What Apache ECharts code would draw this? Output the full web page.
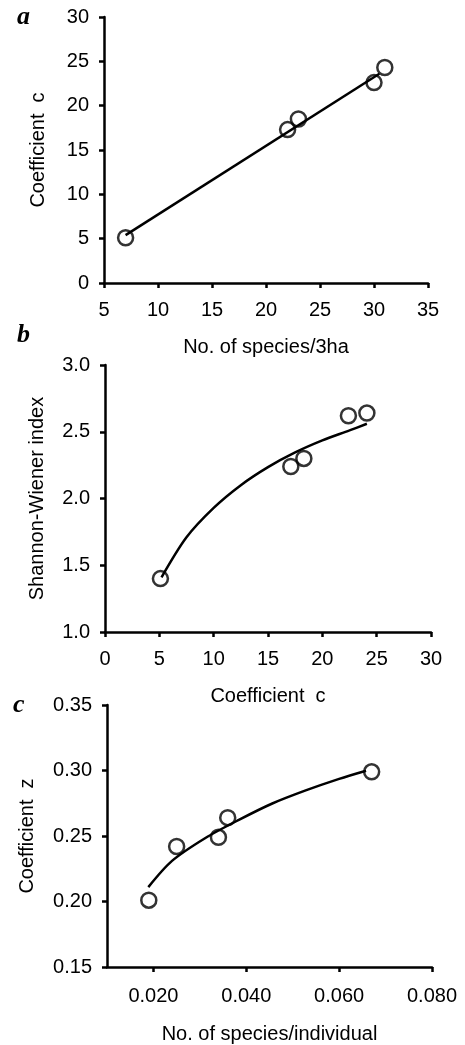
<!DOCTYPE html>
<html>
<head>
<meta charset="utf-8">
<script src="https://cdn.jsdelivr.net/npm/echarts@6/dist/echarts.min.js"></script>
<style>
  html, body { margin: 0; padding: 0; background: #fff; }
  #main { width: 465px; height: 1045px; }
</style>
</head>
<body>
<div id="main"></div>
<script>
// panel a : species richness vs coefficient c
var aX = [7, 22, 23, 30, 31];
var aY = [5.1, 17.3, 18.5, 22.6, 24.3];
var aFitX = [7, 30.5];
var aFitY = [5.4, 23.6];

// panel b : coefficient c vs Shannon-Wiener
var bX = [5.1, 17.1, 18.3, 22.4, 24.1];
var bY = [1.40, 2.24, 2.30, 2.62, 2.64];
var bFitX = [5.2, 7.5, 10, 12.5, 15, 17.5, 20, 22.5, 24.1];
var bFitY = [1.41, 1.71, 1.93, 2.10, 2.235, 2.345, 2.435, 2.51, 2.56];

// panel c : species/individual vs coefficient z
var cX = [0.019, 0.025, 0.034, 0.036, 0.067];
var cY = [0.201, 0.242, 0.249, 0.264, 0.299];
var cFitX = [0.0189, 0.024, 0.0312, 0.0384, 0.0456, 0.0528, 0.060, 0.0658];
var cFitY = [0.211, 0.231, 0.2485, 0.2623, 0.2748, 0.2848, 0.2936, 0.2998];
var cTicks = [0.02, 0.04, 0.06, 0.08];

var font = 'Liberation Sans, Arial, sans-serif';
var lw = 2.5;

function pairs(xs, ys) {
  var out = [];
  for (var i = 0; i < xs.length; i++) out.push([xs[i], ys[i]]);
  return out;
}

function lbl(margin, extra) {
  var l = { fontFamily: font, fontSize: 20, color: '#000', margin: margin };
  for (var k in extra) l[k] = extra[k];
  return l;
}

function axisBase(extra) {
  var ax = {
    type: 'value',
    nameLocation: 'middle',
    nameTextStyle: { fontFamily: font, fontSize: 20, color: '#000' },
    splitLine: { show: false },
    axisLine: { show: true, onZero: false, lineStyle: { color: '#000', width: lw } },
    axisTick: { show: true, inside: false, length: 5, lineStyle: { color: '#000', width: lw } },
    axisLabel: lbl(15)
  };
  for (var k in extra) ax[k] = extra[k];
  return ax;
}

function fmt(d) {
  return function (v) { return v.toFixed(d); };
}

var myChart = echarts.init(document.getElementById('main'));

var scatterStyle = {
  type: 'scatter',
  symbol: 'circle',
  symbolSize: 15,
  itemStyle: { color: 'rgba(0,0,0,0)', borderColor: '#000', borderWidth: lw },
  z: 3
};
var lineStyle = {
  type: 'line',
  showSymbol: false,
  symbol: 'none',
  lineStyle: { color: '#000', width: lw },
  z: 2
};

function mk(base, extra) {
  var s = {};
  for (var k in base) s[k] = base[k];
  for (var j in extra) s[j] = extra[j];
  return s;
}

var option = {
  animation: false,
  backgroundColor: '#fff',
  grid: [
    { left: 104, top: 17, width: 324, height: 266 },
    { left: 105, top: 365, width: 326, height: 267 },
    { left: 107, top: 705, width: 325, height: 266 }
  ],
  xAxis: [
    axisBase({ gridIndex: 0, min: 5, max: 35, interval: 5, name: 'No. of species/3ha', nameGap: 54,
      axisLabel: lbl(17) }),
    axisBase({ gridIndex: 1, min: 0, max: 30, interval: 5, name: 'Coefficient  c', nameGap: 54,
      axisLabel: lbl(17) }),
    axisBase({ gridIndex: 2, min: 0.01, max: 0.08, name: 'No. of species/individual', nameGap: 57,
      axisTick: { show: true, length: 5, customValues: cTicks, lineStyle: { color: '#000', width: lw } },
      axisLabel: lbl(19, { customValues: cTicks, formatter: fmt(3) }) })
  ],
  yAxis: [
    axisBase({ gridIndex: 0, min: 0, max: 30, interval: 5, name: 'Coefficient  c', nameGap: 56 }),
    axisBase({ gridIndex: 1, min: 1.0, max: 3.0, interval: 0.5, name: 'Shannon-Wiener index', nameGap: 58,
      axisLabel: lbl(15, { formatter: fmt(1) }) }),
    axisBase({ gridIndex: 2, min: 0.15, max: 0.35, interval: 0.05, name: 'Coefficient  z', nameGap: 70,
      axisLabel: lbl(15, { formatter: fmt(2) }) })
  ],
  series: [
    mk(lineStyle, { xAxisIndex: 0, yAxisIndex: 0, data: pairs(aFitX, aFitY) }),
    mk(scatterStyle, { xAxisIndex: 0, yAxisIndex: 0, data: pairs(aX, aY) }),
    mk(lineStyle, { xAxisIndex: 1, yAxisIndex: 1, smooth: 0.3, data: pairs(bFitX, bFitY) }),
    mk(scatterStyle, { xAxisIndex: 1, yAxisIndex: 1, data: pairs(bX, bY) }),
    mk(lineStyle, { xAxisIndex: 2, yAxisIndex: 2, smooth: 0.3, data: pairs(cFitX, cFitY) }),
    mk(scatterStyle, { xAxisIndex: 2, yAxisIndex: 2, data: pairs(cX, cY) })
  ],
  graphic: [
    { type: 'text', left: 17, top: 4, style: { text: 'a', font: 'italic bold 26px "Liberation Serif", serif', fill: '#000' } },
    { type: 'text', left: 17, top: 322, style: { text: 'b', font: 'italic bold 26px "Liberation Serif", serif', fill: '#000' } },
    { type: 'text', left: 13, top: 692, style: { text: 'c', font: 'italic bold 26px "Liberation Serif", serif', fill: '#000' } }
  ]
};

myChart.setOption(option);
</script>
</body>
</html>
